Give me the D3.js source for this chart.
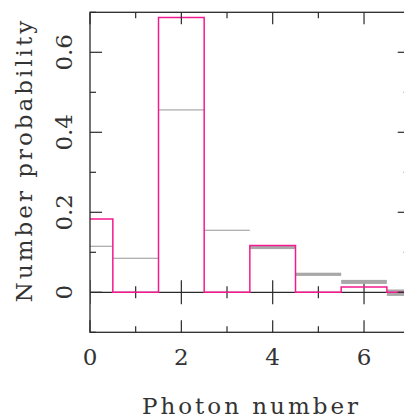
<!DOCTYPE html>
<html>
<head>
<meta charset="utf-8">
<script src="https://cdn.jsdelivr.net/npm/d3@7"></script>
<style>
  html, body { margin: 0; padding: 0; background: #fff; }
  svg { display: block; }
  text { font-family: "DejaVu Serif", serif; fill: #333; }
</style>
</head>
<body>
<svg id="chart" width="404" height="420"></svg>
<script>
// Photon-number distribution: ideal (step outline) vs reconstructed (grey bars with spread)
const photonNumbers = [0, 1, 2, 3, 4, 5, 6, 7];
const idealProb     = [0.183, 0, 0.687, 0, 0.117, 0, 0.013, 0];
const measuredProb  = [0.115, 0.085, 0.456, 0.155, 0.112, 0.045, 0.026, -0.001];
const measuredErr   = [0.001, 0.001, 0.001, 0.001, 0.004, 0.004, 0.005, 0.008];
const xTickValues   = [0, 1, 2, 3, 4, 5, 6];
const xTickLabels   = [0, 2, 4, 6];
const yTickValues   = [-0.1, 0, 0.1, 0.2, 0.3, 0.4, 0.5, 0.6, 0.7];
const yTickLabels   = [0, 0.2, 0.4, 0.6];

const svg = d3.select("#chart");
const x = d3.scaleLinear().domain([0, 7]).range([90, 409.7]);
const y = d3.scaleLinear().domain([-0.1, 0.7]).range([332.3, 12.3]);

const [x0, x1] = x.range();
const [yB, yT] = y.range();

svg.append("clipPath").attr("id", "plotClip")
  .append("rect").attr("x", x0).attr("y", yT).attr("width", x1 - x0).attr("height", yB - yT);

const plot = svg.append("g").attr("clip-path", "url(#plotClip)");

const isMajorX = v => v % 2 === 0;
const isMajorY = v => Math.abs(Math.round(v * 10)) % 2 === 0;
const axisColor = "#2a2a2a";

// zero line with ticks crossing it
plot.append("line")
  .attr("x1", x0).attr("x2", x1).attr("y1", y(0)).attr("y2", y(0))
  .attr("stroke", axisColor).attr("stroke-width", 1.2);
plot.selectAll(".zt").data(xTickValues).join("line")
  .attr("x1", d => x(d)).attr("x2", d => x(d))
  .attr("y1", d => y(0) - (isMajorX(d) ? 12 : 6))
  .attr("y2", d => y(0) + (isMajorX(d) ? 12 : 6))
  .attr("stroke", axisColor).attr("stroke-width", 1.2);

// reconstructed probabilities: grey bars whose thickness shows the spread
const barH = i => Math.max(1.2, y(measuredProb[i] - measuredErr[i]) - y(measuredProb[i] + measuredErr[i]));
plot.selectAll(".meas").data(photonNumbers).join("rect")
  .attr("x", d => x(d - 0.5))
  .attr("width", x(1) - x(0))
  .attr("y", (d, i) => y(measuredProb[i]) - barH(i) / 2)
  .attr("height", (d, i) => barH(i))
  .attr("fill", "#a8a8a8");

// ideal distribution as a step outline
const stepPts = photonNumbers.map((n, i) => [n - 0.5, idealProb[i]]);
stepPts.push([photonNumbers[photonNumbers.length - 1] + 0.5, idealProb[idealProb.length - 1]]);
plot.append("path")
  .attr("d", d3.line().x(d => x(d[0])).y(d => y(d[1])).curve(d3.curveStepAfter)(stepPts))
  .attr("fill", "none").attr("stroke", "#f5198f").attr("stroke-width", 1.5);

// frame
svg.append("rect")
  .attr("x", x0).attr("y", yT).attr("width", x1 - x0).attr("height", yB - yT)
  .attr("fill", "none").attr("stroke", axisColor).attr("stroke-width", 1.3);

// x ticks on bottom and top edges
const ticks = svg.append("g");
xTickValues.forEach(v => {
  const L = isMajorX(v) ? 12 : 6;
  ticks.append("line").attr("x1", x(v)).attr("x2", x(v)).attr("y1", yB).attr("y2", yB - L)
    .attr("stroke", axisColor).attr("stroke-width", 1.2);
  ticks.append("line").attr("x1", x(v)).attr("x2", x(v)).attr("y1", yT).attr("y2", yT + L)
    .attr("stroke", axisColor).attr("stroke-width", 1.2);
});
// y ticks on left and right edges
yTickValues.forEach(v => {
  const L = isMajorY(v) ? 12 : 6;
  ticks.append("line").attr("x1", x0).attr("x2", x0 + L).attr("y1", y(v)).attr("y2", y(v))
    .attr("stroke", axisColor).attr("stroke-width", 1.2);
  ticks.append("line").attr("x1", x1).attr("x2", x1 - L).attr("y1", y(v)).attr("y2", y(v))
    .attr("stroke", axisColor).attr("stroke-width", 1.2);
});

// tick labels
svg.selectAll(".xl").data(xTickLabels).join("text")
  .attr("x", d => x(d)).attr("y", 365)
  .attr("text-anchor", "middle").attr("font-size", 23)
  .text(d => d);

svg.selectAll(".yl").data(yTickLabels).join("text")
  .attr("transform", d => `translate(72,${y(d)}) rotate(-90)`)
  .attr("text-anchor", "middle").attr("font-size", 23)
  .text(d => d === 0 ? "0" : d3.format(".1f")(d));

// axis titles
svg.append("text")
  .attr("x", 251.5).attr("y", 414)
  .attr("text-anchor", "middle").attr("font-size", 23).attr("letter-spacing", 3)
  .text("Photon number");

svg.append("text")
  .attr("transform", "translate(32,160) rotate(-90)")
  .attr("text-anchor", "middle").attr("font-size", 23).attr("letter-spacing", 3)
  .text("Number probability");
</script>
</body>
</html>
